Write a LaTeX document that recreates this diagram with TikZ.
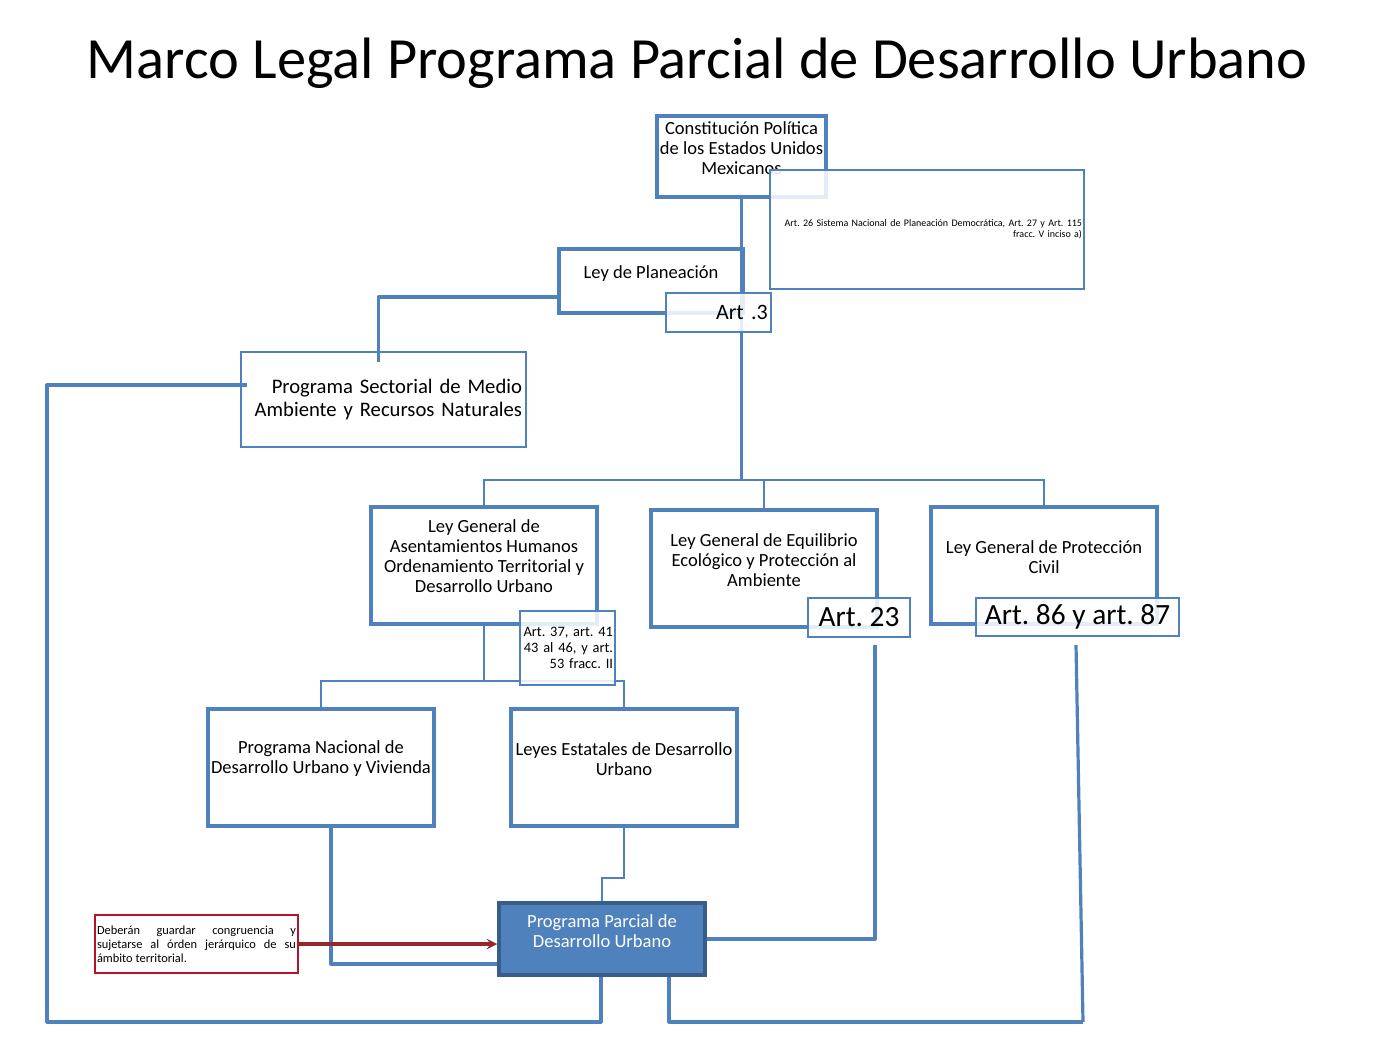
\documentclass[tikz,border=0pt]{standalone}
\usepackage{fontspec}
\setmainfont{Carlito}
\usetikzlibrary{arrows}
\definecolor{boxblue}{RGB}{79,129,189}
\definecolor{darkblue}{RGB}{56,93,138}
\definecolor{notered}{RGB}{180,20,40}
\definecolor{arrowred}{RGB}{150,40,45}
\frenchspacing
\hyphenpenalty=10000
\tolerance=5000

\begin{document}
\begin{tikzpicture}[x=0.75pt, y=-0.75pt, align=center]

\tikzstyle{mainbox} = [rectangle, draw=boxblue, line width=2.6pt, minimum width=169.5pt, minimum height=87.75pt, inner sep=0pt]
\tikzstyle{boxtext} = [align=center, font=\fontsize{13.9}{15}\selectfont, inner sep=0pt]
\tikzstyle{artbox} = [rectangle, draw=boxblue, line width=1.2pt, fill=white, fill opacity=0.85, text opacity=1, inner sep=1.5pt]
\tikzstyle{link} = [draw=boxblue, line width=2.4pt, line join=round]
\tikzstyle{thinlink} = [draw=boxblue, line width=1.5pt]
\tikzstyle{arrow} = [draw=arrowred, line width=2.4pt, ->, >=stealth]

\useasboundingbox (0,0) rectangle (1387,1040);

\node (title) at (697,63) {\fontsize{43.8}{50}\selectfont Marco Legal Programa Parcial de Desarrollo Urbano};

% cajas principales
\node (constit) [mainbox, minimum width=126.75pt, minimum height=60.75pt, label={[boxtext,yshift=6.4pt]center:Constitución Política\\de los Estados Unidos\\Mexicanos}] at (741.5,156.5) {};
\node (planea) [mainbox, minimum width=138pt, minimum height=48pt, label={[boxtext,yshift=5.25pt]center:Ley de Planeación}] at (651,281) {};
\node (sectorial) [rectangle, draw=boxblue, line width=1.5pt, minimum width=213.75pt, minimum height=71.25pt, text width=207.75pt, align=right, inner sep=2.25pt, font=\fontsize{15.5}{17.25}\selectfont] at (383.5,399.5) {Programa Sectorial de Medio\\Ambiente y Recursos Naturales};
\node (lgah) [mainbox, label={[boxtext,yshift=6.75pt]center:Ley General de\\Asentamientos Humanos\\Ordenamiento Territorial y\\Desarrollo Urbano}] at (484,565.5) {};
\node (lgeepa) [mainbox, label={[boxtext,yshift=6.4pt]center:Ley General de Equilibrio\\Ecológico y Protección al\\Ambiente}] at (764,568.5) {};
\node (lgpc) [mainbox, label={[boxtext,yshift=6.4pt]center:Ley General de Protección\\Civil}] at (1044,565.5) {};
\node (pnduv) [mainbox, label={[boxtext,yshift=6.4pt]center:Programa Nacional de\\Desarrollo Urbano y Vivienda}] at (321,767.5) {};
\node (estatal) [mainbox, label={[boxtext,yshift=6.4pt]center:Leyes Estatales de Desarrollo\\Urbano}] at (624,767.5) {};
\node (parcial) [mainbox, fill=boxblue, draw=darkblue, minimum width=154.5pt, minimum height=54pt, label={[boxtext,text=white,yshift=6pt]center:Programa Parcial de\\Desarrollo Urbano}] at (602,939) {};
\node (nota) [rectangle, draw=notered, line width=1.2pt, minimum width=152.25pt, minimum height=43.5pt, text width=149.25pt, align=justify, inner sep=1.5pt, font=\fontsize{9.3}{10.5}\selectfont] at (196.5,944) {Deberán guardar congruencia y sujetarse al órden jerárquico de su ámbito territorial.};

% puntos de paso
\coordinate (bus) at (741.5,480);
\coordinate (bus2) at (484,681);
\coordinate (westrail) at (47,1022);
\coordinate (eastrail) at (1083,1022);
\coordinate (art23foot) at (875,645);
\coordinate (art86foot) at (1076,645);

\draw [link] (constit.south) -- (bus);
\draw [thinlink] (lgah.north) |- (bus) -| (lgpc.north);
\draw [thinlink] (lgeepa.north) |- (bus);
\draw [link] ([yshift=-12pt]planea.west) -| ([xshift=-4pt,yshift=-8.25pt]sectorial.north);
\draw [link] ([xshift=5.25pt,yshift=10.9pt]sectorial.west) -| (westrail) -| ([xshift=-0.75pt]parcial.south);
\draw [thinlink] (lgah.south) -- (bus2);
\draw [thinlink] (pnduv.north) |- (bus2) -| (estatal.north);
\draw [thinlink] (estatal.south) -- ++(0,50) -| (parcial.north);
\draw [link] ([xshift=7.5pt]pnduv.south) |- ([yshift=-18.75pt]parcial.west);
\draw [link] (parcial.east) -| (art23foot);
\draw [link] ([xshift=50.25pt]parcial.south) |- (eastrail);
\draw [link] (eastrail) -- (art86foot);

% articulos
\node (art26) [artbox, minimum width=235.5pt, minimum height=89.25pt, text width=232.5pt, align=right, font=\fontsize{7.5}{8.3}\selectfont] at (927,229.5) {Art. 26 Sistema Nacional de Planeación Democrática, Art. 27 y Art. 115\\fracc. V inciso a)};
\node (art3) [artbox, minimum width=78.75pt, minimum height=29.25pt, text width=74pt, align=right, font=\fontsize{16.5}{18}\selectfont] at (718.5,312.5) {Art .3};
\node (art37) [artbox, minimum width=71.25pt, minimum height=55.5pt, text width=68.25pt, align=right, font=\fontsize{10.8}{12}\selectfont] at (567.5,648) {Art. 37, art. 41\\43 al 46, y art.\\53 fracc. II};
\node (art23) [artbox, minimum width=76.5pt, minimum height=29.25pt, font=\fontsize{22}{24}\selectfont] at (859,617.5) {Art. 23};
\node (art86) [artbox, minimum width=152.25pt, minimum height=28.5pt, font=\fontsize{22}{24}\selectfont] at (1077.5,617) {Art. 86 y art. 87};

\draw [arrow] (nota.east) -- (nota.east -| parcial.west);
\end{tikzpicture}
\end{document}
